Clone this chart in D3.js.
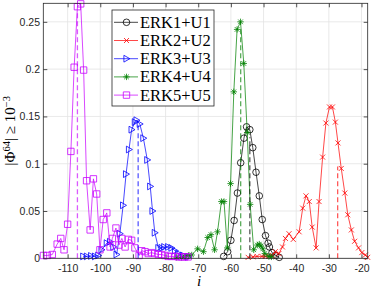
<!DOCTYPE html>
<html>
<head>
<meta charset="utf-8">
<title></title>
<script src="https://cdn.jsdelivr.net/npm/d3@7"></script>
<style>
  body { margin: 0; background: #fff; }
  svg { display: block; }
  .tick text { font-family: "Liberation Sans", Arial, sans-serif; font-size: 10.5px; fill: #262626; }
  .tick line { stroke: #262626; stroke-width: 0.8; }
  .domain { display: none; }
</style>
</head>
<body>
<script>
// series names, colours and marker types
const names   = ["ERK1+U1", "ERK2+U2", "ERK3+U3", "ERK4+U4", "ERK5+U5"];
const colors  = ["#000000", "#ff0000", "#0000ff", "#008000", "#c800ff"];
const markers = ["o", "x", ">", "*", "s"];

// i positions and |Phi| values
const erk1I = [-62.2, -61.0, -60.0, -59.0, -58.0, -57.0, -56.0, -55.2, -54.2, -53.3, -52.3, -51.3, -50.4, -49.4, -48.6, -48.2, -47.4, -46.3, -45.2];
const erk1V = [0.002, 0.007, 0.019, 0.040, 0.069, 0.101, 0.127, 0.139, 0.136, 0.117, 0.091, 0.066, 0.041, 0.024, 0.016, 0.012, 0.006, 0.003, 0.001];

const erk2I = [-54.7, -53.2, -52.0, -50.5, -49.5, -48.3, -47.3, -46.4, -45.3, -44.2, -43.3, -42.2, -40.9, -39.1, -38.0, -37.0, -36.0, -35.1, -33.9, -33.0, -31.9, -30.9, -29.8, -28.9, -28.0, -27.2, -26.2, -25.1, -24.2, -23.1, -22.1, -20.9, -19.9, -18.8, -18.1];
const erk2V = [0.001, 0.0015, 0.002, 0.002, 0.002, 0.002, 0.003, 0.007, 0.005, 0.012, 0.021, 0.026, 0.020, 0.028, 0.053, 0.066, 0.060, 0.033, 0.011, 0.060, 0.107, 0.143, 0.160, 0.160, 0.144, 0.122, 0.095, 0.069, 0.046, 0.030, 0.018, 0.011, 0.006, 0.0035, 0.001];

const erk3I = [-105.2, -104.1, -102.8, -101.6, -100.6, -99.6, -98.0, -97.0, -96.0, -95.0, -94.0, -93.0, -92.1, -91.2, -90.4, -89.4, -88.9, -87.9, -86.8, -85.6, -84.7, -84.0, -83.3, -82.2, -81.2, -80.4, -79.2, -78.2, -77.1, -76.1, -74.6, -73.1];
const erk3V = [0.002, 0.002, 0.0025, 0.002, 0.003, 0.009, 0.016, 0.0175, 0.012, 0.004, 0.026, 0.056, 0.089, 0.115, 0.136, 0.144, 0.146, 0.142, 0.127, 0.104, 0.076, 0.050, 0.027, 0.011, 0.011, 0.012, 0.012, 0.011, 0.008, 0.005, 0.003, 0.0015];

const erk4I = [-76.6, -75.1, -74.1, -73.0, -72.0, -70.2, -68.4, -67.1, -66.1, -65.0, -64.1, -62.9, -62.1, -61.1, -60.1, -59.1, -58.1, -57.05, -56.05, -55.0, -54.1, -53.0, -51.9, -51.3, -50.8, -50.2, -49.6, -48.4, -47.6];
const erk4V = [0.001, 0.001, 0.002, 0.003, 0.0035, 0.010, 0.007, 0.022, 0.025, 0.009, 0.028, 0.060, 0.060, 0.011, 0.079, 0.176, 0.242, 0.250, 0.206, 0.133, 0.057, 0.009, 0.014, 0.015, 0.013, 0.010, 0.005, 0.002, 0.0015];

const erk5I = [-117.4, -116.2, -114.7, -113.2, -112.1, -111.1, -110.0, -109.0, -108.0, -107.0, -106.0, -105.1, -104.2, -103.1, -102.1, -101.1, -100.1, -99.1, -98.0, -97.0, -96.3, -95.2, -94.3, -93.4, -92.4, -91.4, -90.4, -89.4, -88.1, -87.3, -86.3, -85.3, -84.3, -83.3, -82.2, -81.2, -80.2, -79.2, -78.2, -77.1, -76.1, -75.1, -74.1, -73.1];
const erk5V = [0.003, 0.003, 0.004, 0.015, 0.021, 0.009, 0.036, 0.113, 0.202, 0.266, 0.269, 0.199, 0.082, 0.030, 0.084, 0.068, 0.009, 0.041, 0.048, 0.012, 0.021, 0.032, 0.014, 0.021, 0.012, 0.020, 0.019, 0.011, 0.003, 0.008, 0.007, 0.005, 0.006, 0.005, 0.004, 0.004, 0.003, 0.002, 0.002, 0.002, 0.0015, 0.0015, 0.0015, 0.0015];

// dashed vertical markers (position, height) per series
const dashI = [-54.2, -27.3, -88.4, -57.0, -107.0];
const dashH = [0.128, 0.097, 0.141, 0.245, 0.262];

const xTicks = [-110, -100, -90, -80, -70, -60, -50, -40, -30, -20];
const yTicks = [0, 0.05, 0.1, 0.15, 0.2, 0.25];
const yTickLabels = ["0", "0.05", "0.1", "0.15", "0.2", "0.25"];

const seriesI = [erk1I, erk2I, erk3I, erk4I, erk5I];
const seriesV = [erk1V, erk2V, erk3V, erk4V, erk5V];

var W = 372, H = 289;
var padding = { left: 43.3, top: 3.3, right: 4.3, bottom: 30.7 };
var width = W - padding.left - padding.right;
var height = H - padding.top - padding.bottom;

var svg = d3.select("body").append("svg")
  .attr("width", W).attr("height", H);
var g = svg.append("g")
  .attr("transform", "translate(" + padding.left + "," + padding.top + ")");

var x = d3.scaleLinear().domain([-117.45, -18.1]).range([0, width]);
var y = d3.scaleLinear().domain([0, 0.2696]).range([height, 0]);

// grid
g.append("g").selectAll("line").data(xTicks).enter().append("line")
  .attr("x1", d => x(d)).attr("x2", d => x(d))
  .attr("y1", 0).attr("y2", height)
  .attr("stroke", "#e3e3e3").attr("stroke-width", 0.8);
g.append("g").selectAll("line").data(yTicks).enter().append("line")
  .attr("y1", d => y(d)).attr("y2", d => y(d))
  .attr("x1", 0).attr("x2", width)
  .attr("stroke", "#e3e3e3").attr("stroke-width", 0.8);

// axes with inward ticks
g.append("g").attr("transform", "translate(0," + height + ")")
  .call(d3.axisBottom(x).tickValues(xTicks).tickSizeInner(-4).tickSizeOuter(0).tickPadding(6.5).tickFormat(d => String(d)));
g.append("g")
  .call(d3.axisTop(x).tickValues(xTicks).tickSizeInner(-4).tickSizeOuter(0).tickFormat(""));
g.append("g")
  .call(d3.axisLeft(y).tickValues(yTicks).tickSizeInner(-4).tickSizeOuter(0).tickPadding(3.3)
    .tickFormat((d, i) => yTickLabels[i]));
g.append("g").attr("transform", "translate(" + width + ",0)")
  .call(d3.axisRight(y).tickValues(yTicks).tickSizeInner(-4).tickSizeOuter(0).tickFormat(""));

function markerPath(type) {
  if (type === "x") return "M-2.5,-2.5L2.5,2.5M-2.5,2.5L2.5,-2.5";
  if (type === ">") return "M-2.6,-3.4L3.4,0L-2.6,3.4Z";
  if (type === "*") return "M0,-3.2V3.2M-3.2,0H3.2M-2.3,-2.3L2.3,2.3M-2.3,2.3L2.3,-2.3";
  if (type === "s") return "M-3.2,-3.2h6.4v6.4h-6.4Z";
  return null;
}

function addMarker(sel, type, color) {
  if (type === "o") {
    sel.append("circle").attr("r", 3.3)
      .attr("fill", "none").attr("stroke", color).attr("stroke-width", 0.8);
  } else {
    sel.append("path").attr("d", markerPath(type))
      .attr("fill", "none").attr("stroke", color).attr("stroke-width", 0.8);
  }
}

var line = d3.line().x(d => x(d[0])).y(d => y(d[1]));

seriesI.forEach(function (xs, k) {
  var pts = xs.map((v, i) => [v, seriesV[k][i]]);
  var sg = g.append("g");
  sg.append("path").datum(pts)
    .attr("d", line)
    .attr("fill", "none")
    .attr("stroke", colors[k])
    .attr("stroke-opacity", 0.8)
    .attr("stroke-width", 0.9);
  var m = sg.selectAll("g.m").data(pts).enter().append("g")
    .attr("class", "m")
    .attr("transform", d => "translate(" + x(d[0]) + "," + y(d[1]) + ")");
  addMarker(m, markers[k], colors[k]);
});

// dashed lines
g.append("g").selectAll("line").data(dashI).enter().append("line")
  .attr("x1", d => x(d)).attr("x2", d => x(d))
  .attr("y1", y(0))
  .attr("y2", (d, i) => y(dashH[i]))
  .attr("stroke", (d, i) => colors[i])
  .attr("stroke-opacity", 0.65)
  .attr("stroke-width", 1.3)
  .attr("stroke-dasharray", "5,3");

// box
g.append("rect").attr("width", width).attr("height", height)
  .attr("fill", "none").attr("stroke", "#262626").attr("stroke-width", 0.8);

// legend
var lx = 112 - padding.left, ly = 10 - padding.top;
var leg = g.append("g").attr("transform", "translate(" + lx + "," + ly + ")");
leg.append("rect").attr("width", 102).attr("height", 96)
  .attr("fill", "#fff").attr("stroke", "#262626").attr("stroke-width", 0.8);
names.forEach(function (n, k) {
  var yy = 12.3 + k * 18.2;
  leg.append("line").attr("x1", 2).attr("x2", 26).attr("y1", yy).attr("y2", yy)
    .attr("stroke", colors[k]).attr("stroke-opacity", 0.8).attr("stroke-width", 0.9);
  var mg = leg.append("g").attr("transform", "translate(14.5," + yy + ")");
  addMarker(mg, markers[k], colors[k]);
  leg.append("text").attr("x", 28).attr("y", yy + 5.4)
    .attr("font-family", "'Liberation Serif', 'Times New Roman', serif")
    .attr("font-size", "16.5px").attr("fill", "#000")
    .text(n);
});

// axis labels
svg.append("text")
  .attr("x", 199).attr("y", 286)
  .attr("text-anchor", "middle")
  .attr("font-family", "'Liberation Serif', serif")
  .attr("font-style", "italic")
  .attr("font-size", "15px")
  .text("i");

var yl = svg.append("text")
  .attr("transform", "translate(15," + (padding.top + height / 2) + ") rotate(-90)")
  .attr("text-anchor", "middle")
  .attr("font-family", "'Liberation Serif', serif")
  .attr("font-size", "15px");
yl.append("tspan").text("|Φ");
yl.append("tspan").attr("dy", -5).attr("font-size", "10.5px").text("64");
yl.append("tspan").attr("dy", 5).text("| ≥ 10");
yl.append("tspan").attr("dy", -5).attr("font-size", "10.5px").text("−3");
</script>
</body>
</html>
